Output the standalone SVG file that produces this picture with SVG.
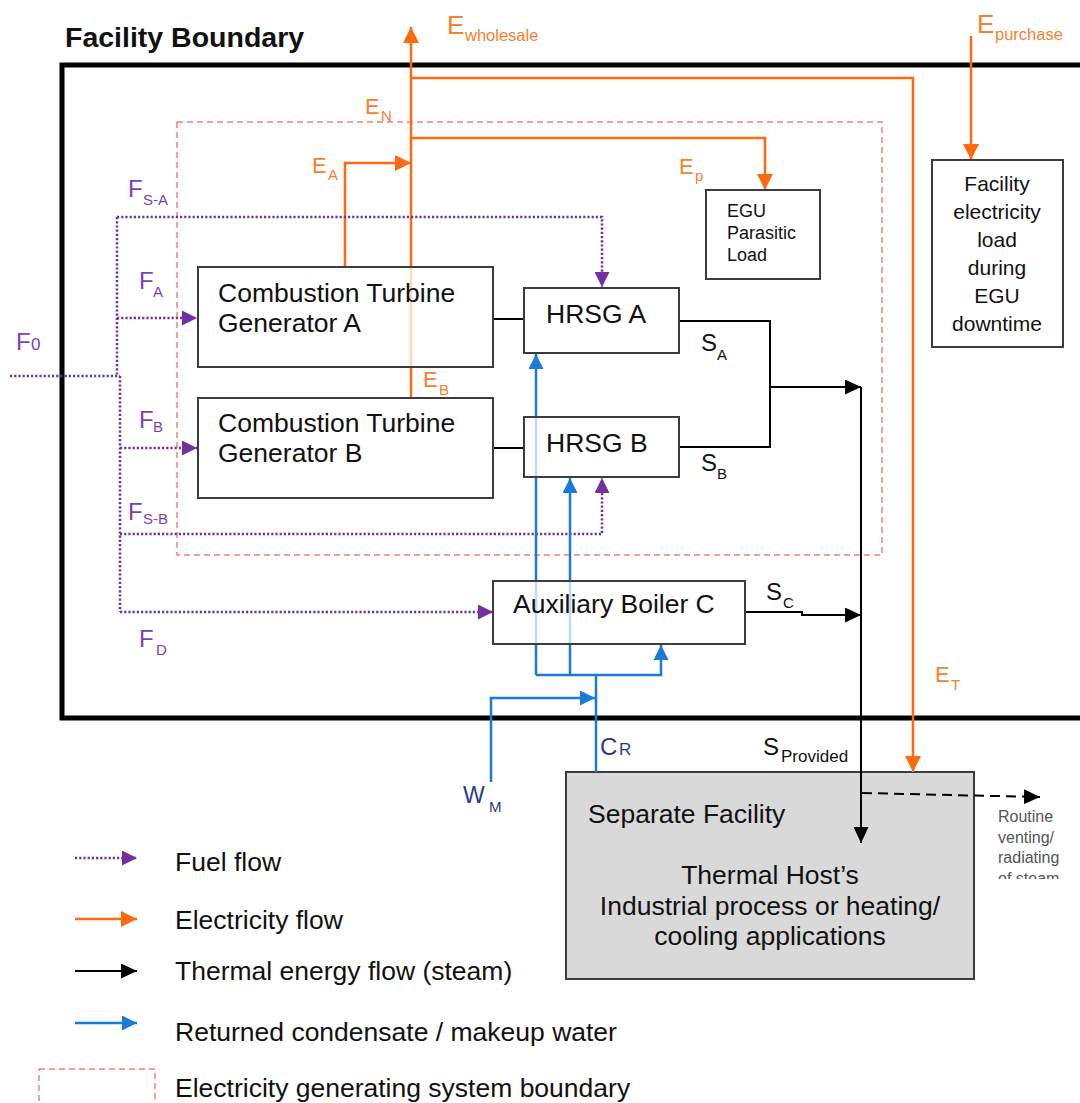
<svg xmlns="http://www.w3.org/2000/svg" width="1080" height="1103" viewBox="0 0 1080 1103">
<style>
text{font-family:"Liberation Sans",Arial,sans-serif}
.box{fill:#ffffff;fill-opacity:0.72;stroke:#3c3c3c;stroke-width:2}
.bt{font-size:26.5px;fill:#111}
.or{fill:none;stroke:#ff6a10;stroke-width:2.5}
.pu{fill:none;stroke:#7030a0;stroke-width:2.5;stroke-dasharray:2.2,2}
.bk{fill:none;stroke:#000;stroke-width:2}
.bl{fill:none;stroke:#1a7ad4;stroke-width:2.5}
.oL{fill:#f7802f;font-size:22px}
.pL{fill:#7b3fb5;font-size:24px}
.kL{fill:#111;font-size:24px}
.nL{fill:#2b3a8a}
.sub{font-size:15px}
.lg{font-size:26.5px;fill:#111}
</style>
<defs>
<marker id="aOr" markerUnits="userSpaceOnUse" markerWidth="16" markerHeight="16" refX="16" refY="8" orient="auto"><path d="M0,0 L16,8 L0,16 z" fill="#ff6a10"/></marker>
<marker id="aPu" markerUnits="userSpaceOnUse" markerWidth="15" markerHeight="15" refX="15" refY="7.5" orient="auto"><path d="M0,0 L15,7.5 L0,15 z" fill="#7030a0"/></marker>
<marker id="aBk" markerUnits="userSpaceOnUse" markerWidth="16" markerHeight="15" refX="16" refY="7.5" orient="auto"><path d="M0,0 L16,7.5 L0,15 z" fill="#000"/></marker>
<marker id="aBl" markerUnits="userSpaceOnUse" markerWidth="15" markerHeight="15" refX="15" refY="7.5" orient="auto"><path d="M0,0 L15,7.5 L0,15 z" fill="#1a7ad4"/></marker>
<clipPath id="clipVent"><rect x="990" y="800" width="90" height="79"/></clipPath>
</defs>
<rect width="1080" height="1103" fill="#fff"/>

<g id="facility-boundary">
<rect x="62" y="65" width="1040" height="653" fill="none" stroke="#000" stroke-width="5"/>
<text x="65" y="47" style="font-size:28.5px;font-weight:bold" fill="#111">Facility Boundary</text>
</g>

<g id="egs-boundary">
<rect x="177" y="122" width="705" height="433" fill="none" stroke="#f08080" stroke-width="1.5" stroke-dasharray="6,4"/>
</g>

<g id="separate-facility">
<rect x="566" y="772" width="408" height="207" fill="#d9d9d9" stroke="#3c3c3c" stroke-width="2"/>
<text x="588" y="823" class="bt">Separate Facility</text>
<text x="770" y="884" class="bt" text-anchor="middle">Thermal Host’s</text>
<text x="770" y="915" class="bt" text-anchor="middle">Industrial process or heating/</text>
<text x="770" y="945" class="bt" text-anchor="middle">cooling applications</text>
</g>

<g id="connectors">
<!-- electricity -->
<path class="or" d="M411,398 V27" marker-end="url(#aOr)"/>
<path class="or" d="M411,78 H913 V772" marker-end="url(#aOr)"/>
<path class="or" d="M411,138 H765 V190" marker-end="url(#aOr)"/>
<path class="or" d="M345,267 V163 H411" marker-end="url(#aOr)"/>
<path class="or" d="M971,36 V160" marker-end="url(#aOr)"/>
<!-- fuel -->
<path class="pu" d="M10,376 H120"/>
<path class="pu" d="M117,217 V376"/>
<path class="pu" d="M120,376 V612"/>
<path class="pu" d="M117,217 H602 V287" marker-end="url(#aPu)"/>
<path class="pu" d="M117,318 H197" marker-end="url(#aPu)"/>
<path class="pu" d="M120,448 H197" marker-end="url(#aPu)"/>
<path class="pu" d="M120,534 H602 V478" marker-end="url(#aPu)"/>
<path class="pu" d="M120,612 H493" marker-end="url(#aPu)"/>
<!-- steam -->
<path class="bk" d="M493,319 H524"/>
<path class="bk" d="M493,448 H524"/>
<path class="bk" d="M679,321 H770 V447 H679"/>
<path class="bk" d="M770,387 H861" marker-end="url(#aBk)"/>
<path class="bk" d="M861,387 V843" marker-end="url(#aBk)"/>
<path class="bk" d="M745,612 H802 V615 H861" marker-end="url(#aBk)"/>
<path class="bk" d="M862,793 L1040,797" stroke-dasharray="10,6" marker-end="url(#aBk)"/>
<!-- condensate -->
<path class="bl" d="M536,675 V354" marker-end="url(#aBl)"/>
<path class="bl" d="M570,675 V478" marker-end="url(#aBl)"/>
<path class="bl" d="M536,675 H661 V645" marker-end="url(#aBl)"/>
<path class="bl" d="M596,772 V674"/>
<path class="bl" d="M491,782 V698 H595" marker-end="url(#aBl)"/>
</g>

<g id="ctg-a">
<rect class="box" x="198" y="267" width="295" height="100"/>
<text x="218" y="302" class="bt">Combustion Turbine</text>
<text x="218" y="332" class="bt">Generator A</text>
</g>
<g id="ctg-b">
<rect class="box" x="198" y="398" width="295" height="100"/>
<text x="218" y="432" class="bt">Combustion Turbine</text>
<text x="218" y="462" class="bt">Generator B</text>
</g>
<g id="hrsg-a">
<rect class="box" x="524" y="288" width="155" height="65"/>
<text x="546" y="323" class="bt">HRSG A</text>
</g>
<g id="hrsg-b">
<rect class="box" x="524" y="417" width="155" height="60"/>
<text x="546" y="452" class="bt">HRSG B</text>
</g>
<g id="aux-boiler">
<rect class="box" x="493" y="581" width="252" height="63"/>
<text x="513" y="613" class="bt">Auxiliary Boiler C</text>
</g>
<g id="egu-parasitic">
<rect class="box" x="706" y="190" width="114" height="89"/>
<text x="727" y="217" style="font-size:18px" fill="#111">EGU</text>
<text x="727" y="239" style="font-size:18px" fill="#111">Parasitic</text>
<text x="727" y="261" style="font-size:18px" fill="#111">Load</text>
</g>
<g id="facility-load">
<rect class="box" x="932" y="160" width="131" height="187"/>
<g style="font-size:21px" fill="#111" text-anchor="middle">
<text x="997" y="191">Facility</text>
<text x="997" y="219">electricity</text>
<text x="997" y="247">load</text>
<text x="997" y="275">during</text>
<text x="997" y="303">EGU</text>
<text x="997" y="331">downtime</text>
</g>
</g>

<g id="labels">
<text x="447" y="34" class="oL" style="font-size:26px">E<tspan x="465" y="41" style="font-size:16.5px">wholesale</tspan></text>
<text x="977" y="33" class="oL" style="font-size:26px">E<tspan x="995" y="40" style="font-size:16.5px">purchase</tspan></text>
<text x="365" y="114" class="oL">E<tspan x="381" y="121" class="sub">N</tspan></text>
<text x="312" y="173" class="oL">E<tspan x="328" y="180" class="sub">A</tspan></text>
<text x="679" y="174" class="oL">E<tspan x="695" y="181" class="sub">p</tspan></text>
<text x="423" y="387" class="oL">E<tspan x="439" y="395" class="sub">B</tspan></text>
<text x="935" y="682" class="oL">E<tspan x="951" y="690" class="sub">T</tspan></text>

<text x="16" y="350" class="pL">F<tspan x="31" y="350" style="font-size:17px">0</tspan></text>
<text x="128" y="197" class="pL">F<tspan x="143" y="205" class="sub">S-A</tspan></text>
<text x="139" y="289" class="pL">F<tspan x="153" y="297" class="sub">A</tspan></text>
<text x="139" y="428" class="pL">F<tspan x="153" y="432" class="sub">B</tspan></text>
<text x="128" y="520" class="pL">F<tspan x="143" y="524" class="sub">S-B</tspan></text>
<text x="139" y="647" class="pL">F<tspan x="156" y="655" class="sub">D</tspan></text>

<text x="701" y="351" class="kL">S<tspan x="717" y="360" class="sub">A</tspan></text>
<text x="701" y="471" class="kL">S<tspan x="717" y="479" class="sub">B</tspan></text>
<text x="766" y="600" class="kL">S<tspan x="783" y="608" class="sub">C</tspan></text>
<text x="763" y="755" class="kL">S<tspan x="781" y="762" style="font-size:17px">Provided</tspan></text>

<text x="600" y="755" class="nL" style="font-size:24px">C</text>
<text x="619" y="755" class="nL" style="font-size:17px">R</text>
<text x="463" y="803" class="nL" style="font-size:23px">W<tspan x="489" y="812" class="sub">M</tspan></text>

<g clip-path="url(#clipVent)" fill="#555" style="font-size:16px">
<text x="998" y="822">Routine</text>
<text x="998" y="843">venting/</text>
<text x="998" y="863">radiating</text>
<text x="998" y="884">of steam</text>
</g>
</g>

<g id="legend">
<path class="pu" d="M75,858 H137" marker-end="url(#aPu)"/>
<path class="or" d="M75,919 H137" marker-end="url(#aOr)"/>
<path class="bk" d="M75,971 H137" marker-end="url(#aBk)"/>
<path class="bl" d="M75,1023 H137" marker-end="url(#aBl)"/>
<rect x="39" y="1069" width="116" height="60" fill="none" stroke="#f08080" stroke-width="1.5" stroke-dasharray="6,4"/>
<text x="175" y="871" class="lg">Fuel flow</text>
<text x="175" y="929" class="lg">Electricity flow</text>
<text x="175" y="980" class="lg">Thermal energy flow (steam)</text>
<text x="175" y="1041" class="lg">Returned condensate / makeup water</text>
<text x="175" y="1097" class="lg">Electricity generating system boundary</text>
</g>
</svg>
